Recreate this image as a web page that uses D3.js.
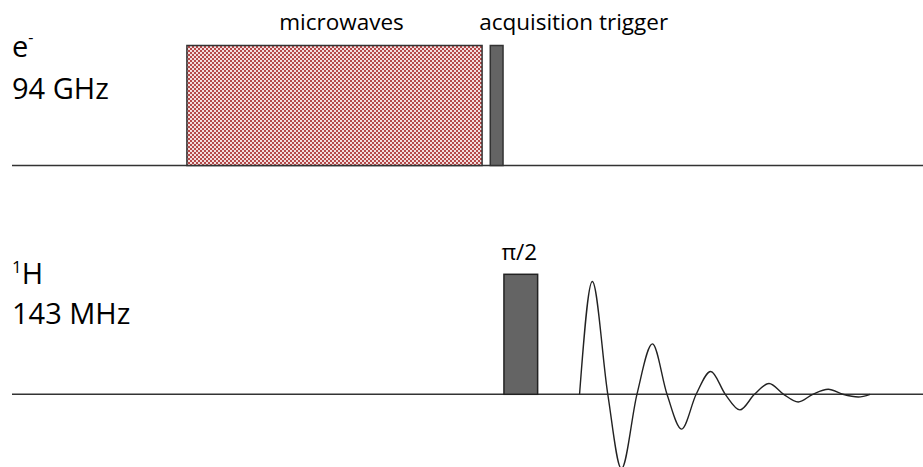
<!DOCTYPE html>
<html>
<head>
<meta charset="utf-8">
<script src="https://cdn.jsdelivr.net/npm/d3@7"></script>
<style>
  body { margin: 0; background: #fff; }
  text { font-family: "Open Sans", sans-serif; fill: #000; }
</style>
</head>
<body>
<div id="chart"></div>
<script>
// pulse sequence, time in arbitrary units (0..100), amplitude relative to pulse height
const channelNucleus = ["e", "H"];
const channelSup = ["-", "1"];
const channelFreq = ["94 GHz", "143 MHz"];

const pulseChannel = [0, 0, 1];
const pulseLabel = ["microwaves", "acquisition trigger", "π/2"];
const pulseKind = ["mw", "trigger", "rf"];
const pulseStart = [19.2, 52.5, 54.0];
const pulseEnd = [51.6, 53.9, 57.7];
const pulseAmp = [1, 1, 1];

// FID: zero crossings and extrema
const fidTime = [62.3, 63.7, 65.4, 66.9, 68.6, 70.3, 71.9, 73.5, 75.1, 76.7, 78.3,
                 79.9, 81.5, 83.1, 84.7, 86.3, 87.9, 89.6, 91.2, 92.9, 94.2];
const fidAmp = [0, 0.94, 0, -0.62, 0, 0.42, 0, -0.29, 0, 0.19, 0,
                -0.13, 0, 0.09, 0, -0.064, 0, 0.042, 0, -0.022, 0];

const W = 923, H = 467;
const baselineY = [165.5, 394.3];
const pulseH = 120;

const svg = d3.select("#chart").append("svg")
    .attr("width", W)
    .attr("height", H);

const x = d3.scaleLinear().domain([0, 100]).range([12, 923]);
const y = baselineY.map(b => d3.scaleLinear().domain([0, 1]).range([b, b - pulseH]));

// checker pattern for microwaves
const defs = svg.append("defs");
const pat = defs.append("pattern")
    .attr("id", "checker")
    .attr("width", 4).attr("height", 4)
    .attr("patternUnits", "userSpaceOnUse");
pat.append("rect").attr("width", 4).attr("height", 4).attr("fill", "#b44848");
pat.append("rect").attr("width", 2).attr("height", 2).attr("fill", "#f3dcdc");
pat.append("rect").attr("x", 2).attr("y", 2).attr("width", 2).attr("height", 2).attr("fill", "#f3dcdc");

const style = {
    mw: { fill: "url(#checker)", stroke: "#333", labelDx: 7, labelY: 29.5, size: 22.5 },
    trigger: { fill: "#646464", stroke: "#333", labelDx: 77, labelY: 29.5, size: 22.5 },
    rf: { fill: "#646464", stroke: "#222", labelDx: -1.5, labelY: 260, size: 22.5 }
};

// baselines
baselineY.forEach(b => {
    svg.append("line")
        .attr("x1", x(0)).attr("x2", x(100))
        .attr("y1", b).attr("y2", b)
        .attr("stroke", "#333")
        .attr("stroke-width", 1.5);
});

// pulses
pulseLabel.forEach((lab, i) => {
    const s = style[pulseKind[i]];
    const yy = y[pulseChannel[i]];
    svg.append("rect")
        .attr("x", x(pulseStart[i]))
        .attr("y", yy(pulseAmp[i]))
        .attr("width", x(pulseEnd[i]) - x(pulseStart[i]))
        .attr("height", yy(0) - yy(pulseAmp[i]))
        .attr("fill", s.fill)
        .attr("stroke", s.stroke)
        .attr("stroke-width", 1.5);

    svg.append("text")
        .attr("x", (x(pulseStart[i]) + x(pulseEnd[i])) / 2 + s.labelDx)
        .attr("y", s.labelY)
        .attr("text-anchor", "middle")
        .style("font-size", s.size + "px")
        .text(lab);
});

// FID
const fid = fidTime.map((t, i) => ({ t: t, a: fidAmp[i] }));
svg.append("path")
    .datum(fid)
    .attr("fill", "none")
    .attr("stroke", "#222")
    .attr("stroke-width", 1.4)
    .attr("d", d3.line()
        .x(d => x(d.t))
        .y(d => y[1](d.a))
        .curve(d3.curveMonotoneX));

// channel labels
const nucY = [56.7, 284];
const freqY = [98.5, 324];
channelNucleus.forEach((n, i) => {
    const t = svg.append("text")
        .attr("x", 12)
        .attr("y", nucY[i])
        .style("font-size", "29px");
    if (i === 0) {
        t.append("tspan").text(n);
        t.append("tspan").attr("dy", -14).style("font-size", "16px").text(channelSup[i]);
    } else {
        t.append("tspan").attr("dy", -11).style("font-size", "17px").text(channelSup[i]);
        t.append("tspan").attr("dy", 11).text(n);
    }
    svg.append("text")
        .attr("x", 12)
        .attr("y", freqY[i])
        .style("font-size", "29px")
        .text(channelFreq[i]);
});
</script>
</body>
</html>
